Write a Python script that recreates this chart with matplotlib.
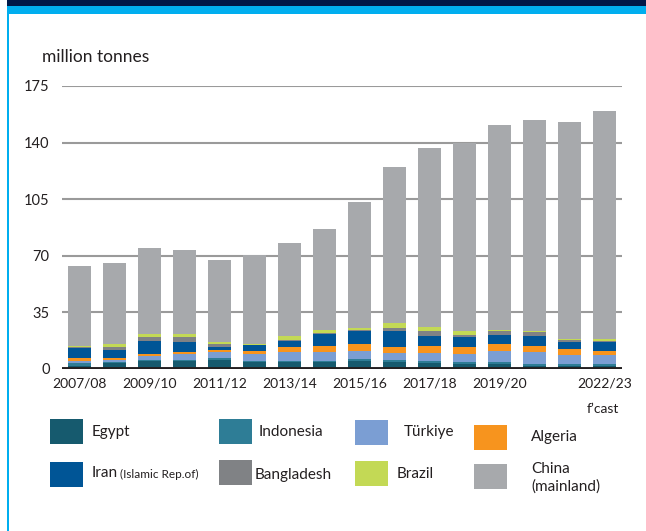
import matplotlib
matplotlib.use("Agg")
import matplotlib.pyplot as plt
import numpy as np
from matplotlib.patches import Rectangle

plt.rcParams['font.family'] = ['Lato', 'DejaVu Sans']

# marketing years
years = ['2007/08', '2008/09', '2009/10', '2010/11', '2011/12', '2012/13', '2013/14', '2014/15',
         '2015/16', '2016/17', '2017/18', '2018/19', '2019/20', '2020/21', '2021/22', '2022/23']

# million tonnes
egypt = [2.1, 3.9, 4.8, 4.8, 5.8, 4.1, 4.1, 4.1, 5.2, 4.6, 3.9, 3.3, 3.3, 2.1, 2.1, 2.1]
indonesia = [1.4, 0.4, 0.8, 0.8, 1.2, 1.1, 1.1, 1.1, 1.2, 1.2, 1.3, 1.3, 1.3, 1.2, 1.2, 1.2]
turkiye = [1.7, 1.3, 2.7, 3.5, 3.6, 4.3, 5.6, 5.6, 5.0, 4.3, 4.9, 4.9, 6.8, 7.5, 5.6, 5.6]
algeria = [1.6, 1.4, 0.8, 1.3, 1.4, 1.9, 2.5, 3.3, 4.3, 3.8, 4.4, 4.4, 4.3, 3.7, 3.7, 2.5]
iran = [6.2, 5.0, 8.1, 6.0, 1.9, 3.3, 4.3, 7.4, 7.5, 9.3, 6.2, 5.6, 5.6, 6.2, 3.8, 5.0]
bangladesh = [0.7, 1.3, 2.3, 3.1, 1.8, 0.4, 0.4, 0.5, 1.2, 1.9, 2.5, 1.8, 1.9, 1.9, 1.8, 1.2]
brazil = [0.8, 2.4, 2.4, 2.0, 1.3, 0.6, 2.3, 2.0, 0.7, 3.1, 2.5, 2.5, 1.2, 0.6, 0.6, 1.2]
china = [48.9, 49.6, 52.7, 51.8, 50.7, 54.5, 57.4, 62.6, 78.2, 96.8, 111.1, 115.9, 126.6, 130.9, 134.0, 140.9]

series = [egypt, indonesia, turkiye, algeria, iran, bangladesh, brazil, china]
colors = ['#165a6e', '#2e7d96', '#7b9ed3', '#f7941e', '#005596', '#808285', '#c3d955', '#a7a9ac']

fig = plt.figure(figsize=(6.46, 5.31), dpi=100)

# header bands and left border
fig.add_artist(Rectangle((7/646, 1 - 6/531), 1, 6/531, transform=fig.transFigure, color='#001848', lw=0))
fig.add_artist(Rectangle((7/646, 1 - 14/531), 1, 8/531, transform=fig.transFigure, color='#00aeef', lw=0))
fig.add_artist(Rectangle((7/646, 0), 2/646, 1 - 14/531, transform=fig.transFigure, color='#00aeef', lw=0))

ax = fig.add_axes([62/646, 162/531, 560/646, 283/531])
x = np.arange(len(years))
bottom = np.zeros(len(years))
for vals, c in zip(series, colors):
    ax.bar(x, vals, bottom=bottom, width=0.66, color=c, zorder=2)
    bottom += np.array(vals)

ax.set_xlim(-0.5, 15.5)
ax.set_ylim(0, 175)
ax.set_yticks(np.arange(0, 176, 35))
for v in range(35, 176, 35):
    ax.axhline(v, color='#9a9a9a', lw=1.5, zorder=1)
ax.axhline(0, color='#231f20', lw=2.8, zorder=3)
for s in ax.spines.values():
    s.set_visible(False)
ax.tick_params(axis='both', length=0, labelsize=10, colors='#231f20')
ax.tick_params(axis='y', labelsize=10.5, pad=9)
ax.tick_params(axis='x', pad=6)
ax.set_xticks([0, 2, 4, 6, 8, 10, 12, 15])
ax.set_xticklabels([years[i] for i in [0, 2, 4, 6, 8, 10, 12, 15]])
fig.text(603/646, 1 - 409/531, 'f\u2019cast', ha='center', va='center', fontsize=10, color='#231f20')

fig.text(42/646, 1 - 57/531, 'million tonnes', ha='left', va='center', fontsize=12.5, color='#231f20')

# legend, drawn by hand
def legend_item(x0, y0, color, label, tx, ty, small=None):
    fig.add_artist(Rectangle((x0/646, 1 - (y0 + 25)/531), 33/646, 25/531,
                             transform=fig.transFigure, color=color, lw=0))
    fig.text(tx/646, 1 - ty/531, label, ha='left', va='center', fontsize=11,
             color='#231f20', linespacing=1.25)
    if small:
        fig.text((tx + 28)/646, 1 - (ty + 1)/531, small, ha='left', va='center', fontsize=8.5, color='#231f20')

legend_item(50, 419, colors[0], 'Egypt', 92, 432)
legend_item(219, 419, colors[1], 'Indonesia', 259, 432)
legend_item(355, 420, colors[2], 'Türkiye', 404, 432)
legend_item(474, 425, colors[3], 'Algeria', 531, 437)
legend_item(50, 462, colors[4], 'Iran', 92, 473, small='(Islamic Rep.of)')
legend_item(219, 460, colors[5], 'Bangladesh', 255, 475)
legend_item(355, 461, colors[6], 'Brazil', 397, 474)
legend_item(474, 464, colors[7], 'China\n(mainland)', 531, 478)

fig.savefig('out.png', dpi=100)
